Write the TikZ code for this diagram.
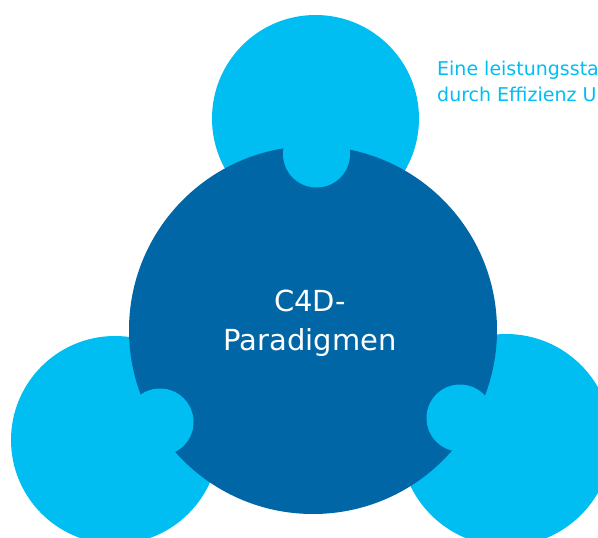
\documentclass[tikz,border=0pt]{standalone}
\usepackage{fontspec}
\setmainfont{DejaVu Sans}
\definecolor{skyblue}{RGB}{0,190,242}
\definecolor{deepblue}{RGB}{0,102,166}
\begin{document}
\begin{tikzpicture}[x=1pt,y=-1pt,
  disc/.style={circle,inner sep=0pt,outer sep=0pt,draw=none,minimum size=#1},
  outer/.style={disc=#1,fill=skyblue},
  core/.style={disc=#1,fill=deepblue},
  tab/.style={disc=67pt,fill=skyblue},
  title/.style={text=white,font=\fontsize{29}{34}\selectfont,anchor=base,inner sep=0pt},
  note/.style={text=skyblue,font=\fontsize{19}{22}\selectfont,anchor=base west,inner sep=0pt}]
\useasboundingbox (0,0) rectangle (598,538);
\clip (0,0) rectangle (598,538);
% three outer discs
\node[outer=207pt] (topdisc) at (315.5,118.5) {};
\node[outer=208pt] (leftdisc) at (115,440) {};
\node[outer=212pt] (rightdisc) at (506,440) {};
% central disc
\node[core=368pt] (centre) at (313,330) {};
% puzzle tabs reaching into the central disc
\node[tab] (toptab) at (316.5,154) {};
\node[tab] (lefttab) at (160,422) {};
\node[tab] (righttab) at (460,418) {};
% labels
\node[title] (t1) at (310,311.7) {C4D-};
\node[title] (t2) at (310,350.7) {Paradigmen};
\node[note] (n1) at (437,75) {Eine leistungssta};
\node[note] (n2) at (437,101.7) {durch Effizienz U};
\end{tikzpicture}
\end{document}
